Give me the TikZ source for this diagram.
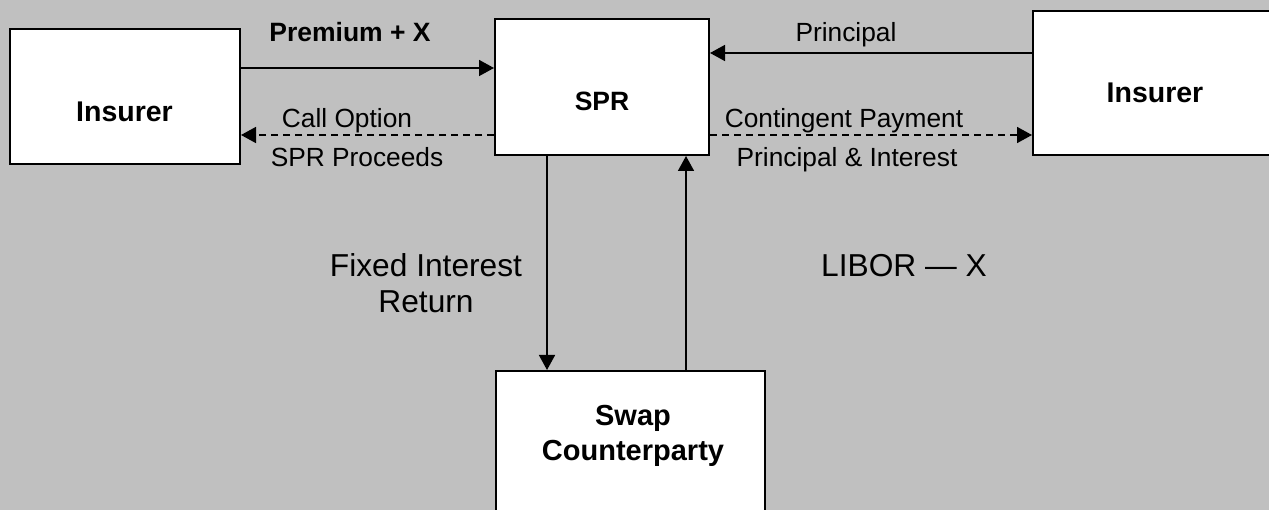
\documentclass[tikz,border=0pt]{standalone}
\usepackage{fontspec}
\setmainfont{Liberation Sans}
\usetikzlibrary{arrows.meta}
\definecolor{bg}{RGB}{192,192,192}
\begin{document}
\begin{tikzpicture}[x=1pt,y=-1pt,
 box/.style={draw=black, fill=white, line width=2pt, inner sep=0pt},
 arr/.style={line width=1.6pt, -{Triangle[length=15pt,width=16pt]}},
 dsh/.style={arr, dash pattern=on 7pt off 5pt},
 lbl/.style={anchor=base, inner sep=0pt, font=\fontsize{26.3}{30}\selectfont},
 blbl/.style={anchor=base, inner sep=0pt, font=\bfseries\fontsize{26.5}{30}\selectfont},
 big/.style={anchor=base, inner sep=0pt, align=center, font=\fontsize{31.7}{36}\selectfont}]
\useasboundingbox (0,0) rectangle (1269,510);
\fill[bg] (0,0) rectangle (1269,510);
\begin{scope}
\clip (0,0) rectangle (1269,510);
\node[box, minimum width=230pt, minimum height=135pt] (ins1) at (125,96.5) {};
\node[box, minimum width=214pt, minimum height=136pt] (spr) at (602,87) {};
\node[box, minimum width=257pt, minimum height=144pt] (ins2) at (1161.5,83) {};
\node[box, minimum width=269pt, minimum height=169pt] (swap) at (630.5,455.5) {};
\end{scope}
% box texts
\node[blbl, font=\bfseries\fontsize{28.5}{30}\selectfont] (ins1t) at (124.5,122) {Insurer};
\node[blbl] (sprt) at (602,111) {SPR};
\node[blbl, font=\bfseries\fontsize{28.5}{30}\selectfont] (ins2t) at (1155,103) {Insurer};
\node[blbl, align=center, font=\bfseries\fontsize{29}{35}\selectfont] (swapt) at (633,460) {Swap\\Counterparty};
% connectors
\draw[arr] (ins1.east |- 0,68) -- (spr.west |- 0,68);
\draw[dsh] (spr.west |- 0,135) -- (ins1.east |- 0,135);
\draw[arr] (ins2.west |- 0,53) -- (spr.east |- 0,53);
\draw[dsh] (spr.east |- 0,135) -- (ins2.west |- 0,135);
\draw[arr] (spr.south -| 547,0) -- (swap.north -| 547,0);
\draw[arr] (swap.north -| 686,0) -- (spr.south -| 686,0);
% connector labels
\node[blbl] (l1) at (350,42) {Premium + X};
\node[lbl] (l2) at (347,128) {Call Option};
\node[lbl] (l3) at (357,167) {SPR Proceeds};
\node[lbl] (l4) at (846,42) {Principal};
\node[lbl] (l5) at (844,128) {Contingent Payment};
\node[lbl] (l6) at (847,167) {Principal \& Interest};
\node[big] (l7) at (426,313) {Fixed Interest\\Return};
\node[big] (l8) at (904,277) {LIBOR — X};
\end{tikzpicture}
\end{document}
